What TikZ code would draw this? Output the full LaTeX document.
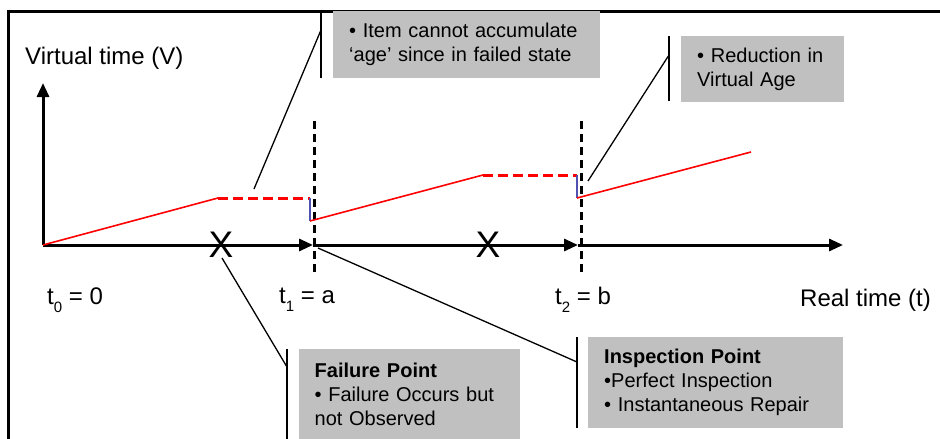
\documentclass[tikz,border=0pt]{standalone}
\usepackage{fontspec}
\setmainfont{Liberation Sans}
\usetikzlibrary{arrows.meta}
\definecolor{boxgray}{HTML}{C0C0C0}
\definecolor{stepblue}{HTML}{5050B0}
\tikzset{
  axisline/.style={line width=3pt,-{Triangle[length=14pt,width=12pt]}},
  inspline/.style={line width=3pt,dash pattern=on 8pt off 5pt},
  ageline/.style={red,line width=1.6pt},
  idleline/.style={red,line width=3pt,dash pattern=on 10pt off 5pt},
  jumpline/.style={stepblue,line width=1.6pt},
  callbox/.style={fill=boxgray,draw=none,anchor=north west,inner xsep=16pt,inner ysep=0pt,align=left,font=\fontsize{20}{24}\selectfont},
  callbar/.style={line width=1.6pt},
  leader/.style={line width=1.3pt},
  axislabel/.style={font=\fontsize{24}{28}\selectfont,inner sep=0pt},
  failmark/.style={font=\fontsize{37}{37}\selectfont,inner sep=0pt,text=black,draw=none}
}
\newcommand{\tsub}[1]{t\raisebox{-0.35em}{\fontsize{15}{15}\selectfont #1}}
\begin{document}
\begin{tikzpicture}[x=1pt,y=-1pt]
\useasboundingbox (0,0) rectangle (940,439);
% frame (top and left edges visible)
\draw[line width=3pt] (8,439) -- (8,11) -- (940,11);
% key coordinates
\coordinate (O) at (43,245);
\coordinate (Ytop) at (43,83);
\coordinate (A1) at (313,245);
\coordinate (A2) at (578,245);
\coordinate (Xend) at (843,245);
% axes
\draw[axisline] (O) -- (Ytop);
\draw[axisline] (O) -- (A1);
\draw[axisline] (A1) -- (A2);
\draw[axisline] (A2) -- (Xend);
% inspection dashed lines
\coordinate (I1t) at (314,121); \coordinate (I1b) at (314,273);
\coordinate (I2t) at (581,121); \coordinate (I2b) at (581,273);
\draw[inspline] (I1t) -- (I1b);
\draw[inspline] (I2t) -- (I2b);
% virtual age path
\coordinate (P1) at (218,198);
\coordinate (P2) at (310,198);
\coordinate (P3) at (310,221);
\coordinate (P4) at (483,175);
\coordinate (P5) at (577,175);
\coordinate (P6) at (577,198);
\coordinate (P7) at (751,152);
\draw[ageline] (O) -- (P1);
\draw[idleline] (P1) -- (P2);
\draw[jumpline] (P2) -- (P3);
\draw[ageline] (P3) -- (P4);
\draw[idleline] (P4) -- (P5);
\draw[jumpline] (P5) -- (P6);
\draw[ageline] (P6) -- (P7);
% failure marks
\node[failmark] (F1) at (221,245) {X};
\node[failmark] (F2) at (488,245) {X};
% axis labels
\node[axislabel,anchor=west] (vlab) at (25,58) {Virtual time (V)};
\node[axislabel,anchor=west] (rlab) at (800,300) {Real time (t)};
\node[axislabel,anchor=west] (t0) at (47,300) {\tsub{0} = 0};
\node[axislabel,anchor=west] (t1) at (279,300) {\tsub{1} = a};
\node[axislabel,anchor=west] (t2) at (555,300) {\tsub{2} = b};
% callout boxes
\node[callbox,minimum width=267pt,minimum height=67pt,text width=235pt] (b1) at (333,11)
  {• Item cannot accumulate\\‘age’ since in failed state};
\node[callbox,minimum width=163pt,minimum height=66pt,text width=131pt] (b2) at (681,36)
  {• Reduction in\\Virtual Age};
\node[callbox,minimum width=221pt,minimum height=90pt,text width=190pt,inner xsep=15pt] (b3) at (299,349)
  {\textbf{Failure Point}\\• Failure Occurs but\\not Observed};
\node[callbox,minimum width=255pt,minimum height=91pt,text width=223pt] (b4) at (588,337)
  {\textbf{Inspection Point}\\•Perfect Inspection\\• Instantaneous Repair};
% callout bars
\coordinate (c1t) at (321,11); \coordinate (c1b) at (321,78);
\coordinate (c2t) at (669,36); \coordinate (c2b) at (669,101);
\coordinate (c3t) at (287,349); \coordinate (c3b) at (287,439);
\coordinate (c4t) at (577,337); \coordinate (c4b) at (577,428);
\draw[callbar] (c1t) -- (c1b);
\draw[callbar] (c2t) -- (c2b);
\draw[callbar] (c3t) -- (c3b);
\draw[callbar] (c4t) -- (c4b);
% leaders
\coordinate (l1a) at (321,30); \coordinate (l1b) at (254,189);
\coordinate (l2a) at (669,55); \coordinate (l2b) at (588,181);
\coordinate (l3a) at (287,367); \coordinate (l3b) at (222,258);
\coordinate (l4a) at (577,362); \coordinate (l4b) at (318,248);
\draw[leader] (l1a) -- (l1b);
\draw[leader] (l2a) -- (l2b);
\draw[leader] (l3a) -- (l3b);
\draw[leader] (l4a) -- (l4b);
\end{tikzpicture}
\end{document}
